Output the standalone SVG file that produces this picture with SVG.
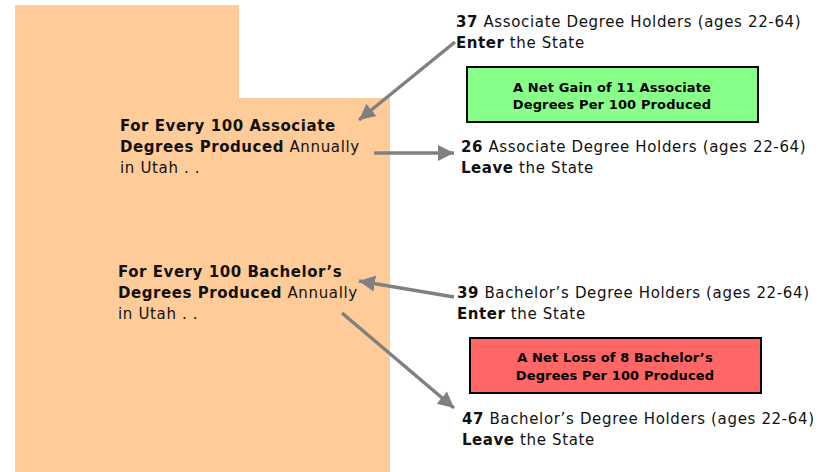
<svg xmlns="http://www.w3.org/2000/svg" width="825" height="472" viewBox="0 0 825 472">
<style>
text{font-family:"DejaVu Sans",Verdana,sans-serif;font-size:15px;letter-spacing:.65px;fill:#111}
.b{font-weight:700;letter-spacing:.55px}
.n{font-size:13px;letter-spacing:.12px;font-weight:700;text-anchor:middle;fill:#000}
.box{stroke:#000;stroke-width:2}
.c{stroke:#808080;stroke-width:3.5;fill:none;marker-end:url(#a)}
</style>
<defs><marker id="a" markerUnits="userSpaceOnUse" markerWidth="18" markerHeight="18" refX="16" refY="9" orient="auto"><path d="M0 1L16 9L0 17Z" fill="#808080"/></marker></defs>
<rect width="825" height="472" fill="#fff"/>
<g id="state"><path d="M15 5H239V98H390V472H15Z" fill="#ffcc99"/></g>
<g id="connectors">
<line class="c" x1="455" y1="42" x2="359" y2="120"/>
<line class="c" x1="374" y1="153" x2="454" y2="153"/>
<line class="c" x1="454" y1="297" x2="359" y2="281"/>
<line class="c" x1="342" y1="313" x2="454" y2="408"/>
</g>
<g id="assoc-label"><text x="120" y="130.5" class="b">For Every 100 Associate</text><text x="120" y="151.5"><tspan class="b">Degrees Produced</tspan> Annually</text><text x="120" y="172.5">in Utah . .</text></g>
<g id="bach-label"><text x="118" y="276.5" class="b">For Every 100 Bachelor’s</text><text x="118" y="297.5"><tspan class="b">Degrees Produced</tspan> Annually</text><text x="118" y="318.5">in Utah . .</text></g>
<g id="assoc-enter"><text x="456" y="26.5"><tspan class="b">37</tspan> Associate Degree Holders (ages 22-64)</text><text x="456" y="48"><tspan class="b">Enter</tspan> the State</text></g>
<g id="assoc-gain"><rect class="box" x="467" y="67" width="291" height="55" fill="#88ff88"/><text class="n" x="612" y="92">A Net Gain of 11 Associate</text><text class="n" x="612" y="109">Degrees Per 100 Produced</text></g>
<g id="assoc-leave"><text x="461" y="151.5"><tspan class="b">26</tspan> Associate Degree Holders (ages 22-64)</text><text x="461" y="172.5"><tspan class="b">Leave</tspan> the State</text></g>
<g id="bach-enter"><text x="457" y="297.5"><tspan class="b">39</tspan> Bachelor’s Degree Holders (ages 22-64)</text><text x="457" y="318.5"><tspan class="b">Enter</tspan> the State</text></g>
<g id="bach-loss"><rect class="box" x="470" y="338" width="291" height="55" fill="#ff6666"/><text class="n" x="615" y="362">A Net Loss of 8 Bachelor’s</text><text class="n" x="615" y="380">Degrees Per 100 Produced</text></g>
<g id="bach-leave"><text x="462" y="423.5"><tspan class="b">47</tspan> Bachelor’s Degree Holders (ages 22-64)</text><text x="462" y="444.5"><tspan class="b">Leave</tspan> the State</text></g>
</svg>
